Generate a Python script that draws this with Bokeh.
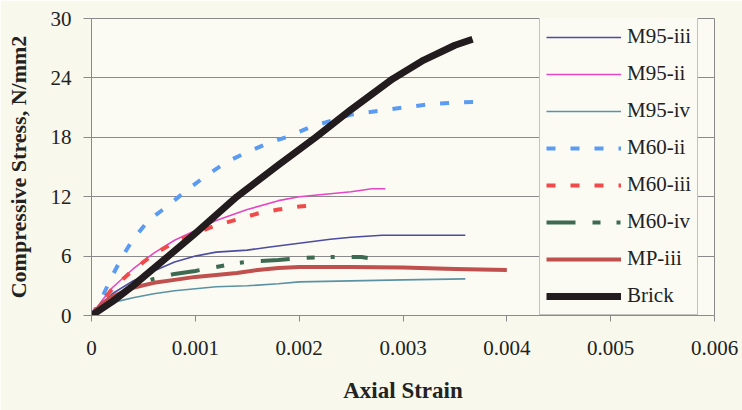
from bokeh.plotting import figure
from bokeh.models import Legend, LegendItem, FixedTicker, Range1d
from bokeh.embed import file_html
from bokeh.resources import INLINE

# ---- data ----
series_names = ["M95-iii", "M95-ii", "M95-iv", "M60-ii", "M60-iii", "M60-iv", "MP-iii", "Brick"]

m95_iii_strain = [0, 0.0001, 0.0002, 0.0004, 0.0006, 0.0008, 0.001, 0.0012, 0.0015, 0.0017, 0.002, 0.0023, 0.0025, 0.0028, 0.0036]
m95_iii_stress = [0, 1.2, 2.2, 3.5, 4.5, 5.4, 6.0, 6.4, 6.6, 6.9, 7.3, 7.7, 7.9, 8.1, 8.1]

m95_ii_strain = [0, 0.0001, 0.0002, 0.0004, 0.0006, 0.0008, 0.001, 0.0012, 0.0015, 0.0018, 0.002, 0.0023, 0.0025, 0.0027, 0.00283]
m95_ii_stress = [0, 1.5, 2.8, 4.7, 6.3, 7.6, 8.6, 9.6, 10.7, 11.6, 12.0, 12.3, 12.5, 12.8, 12.8]

m95_iv_strain = [0, 0.0001, 0.0002, 0.0004, 0.0006, 0.0008, 0.001, 0.0012, 0.0015, 0.0018, 0.002, 0.0025, 0.003, 0.0036]
m95_iv_stress = [0, 0.8, 1.3, 1.8, 2.2, 2.5, 2.7, 2.9, 3.0, 3.2, 3.4, 3.5, 3.6, 3.7]

m60_ii_strain = [0, 0.0001, 0.0002, 0.0003, 0.0004, 0.00055, 0.0007, 0.0009, 0.0011, 0.0013, 0.0015, 0.0017, 0.0019, 0.0021, 0.0025, 0.003, 0.0033, 0.00375]
m60_ii_stress = [0, 1.8, 4.0, 6.0, 7.7, 9.6, 10.8, 12.5, 14.1, 15.5, 16.5, 17.4, 18.1, 19.0, 20.3, 21.0, 21.4, 21.6]

m60_iii_strain = [0, 0.0001, 0.0002, 0.0004, 0.0006, 0.0008, 0.001, 0.0012, 0.0014, 0.0016, 0.0018, 0.002, 0.0022]
m60_iii_stress = [0, 1.4, 2.7, 4.6, 6.2, 7.4, 8.3, 9.1, 9.7, 10.3, 10.7, 11.0, 11.2]

m60_iv_strain = [0, 0.0002, 0.0004, 0.0006, 0.0008, 0.001, 0.0012, 0.0014, 0.0016, 0.0018, 0.002, 0.0023, 0.0026, 0.00266]
m60_iv_stress = [0, 1.9, 3.0, 3.7, 4.2, 4.5, 4.9, 5.3, 5.5, 5.6, 5.8, 5.9, 5.9, 5.8]

mp_iii_strain = [0, 0.0001, 0.0002, 0.0004, 0.0006, 0.0008, 0.001, 0.0012, 0.0014, 0.0016, 0.0018, 0.002, 0.0025, 0.003, 0.0035, 0.004]
mp_iii_stress = [0, 1.2, 1.9, 2.8, 3.3, 3.6, 3.9, 4.1, 4.3, 4.6, 4.8, 4.9, 4.9, 4.85, 4.7, 4.6]

brick_strain = [0, 0.0002, 0.0004, 0.00074, 0.001, 0.0014, 0.0018, 0.00216, 0.0025, 0.0029, 0.0032, 0.0035, 0.00367]
brick_stress = [0, 1.4, 3.0, 6.0, 8.3, 12.0, 15.2, 18.0, 20.8, 23.9, 25.8, 27.3, 27.9]

x_ticks = [0, 0.001, 0.002, 0.003, 0.004, 0.005, 0.006]
x_tick_labels = ["0", "0.001", "0.002", "0.003", "0.004", "0.005", "0.006"]
y_ticks = [0, 6, 12, 18, 24, 30]

# ---- styles ----
styles = {
    "M95-iii": dict(color="#4c4ca0", width=1.6, dash="solid"),
    "M95-ii": dict(color="#e446c4", width=1.6, dash="solid"),
    "M95-iv": dict(color="#5a92a4", width=1.6, dash="solid"),
    "M60-ii": dict(color="#5b9bf2", width=4, dash="9 15"),
    "M60-iii": dict(color="#f04a4a", width=4, dash="9 15"),
    "M60-iv": dict(color="#3e6a52", width=4, dash="29 17 8 16 4 17"),
    "MP-iii": dict(color="#c0504d", width=4, dash="solid"),
    "Brick": dict(color="#231c1e", width=7, dash="solid"),
}

data = {
    "M95-iii": (m95_iii_strain, m95_iii_stress),
    "M95-ii": (m95_ii_strain, m95_ii_stress),
    "M95-iv": (m95_iv_strain, m95_iv_stress),
    "M60-ii": (m60_ii_strain, m60_ii_stress),
    "M60-iii": (m60_iii_strain, m60_iii_stress),
    "M60-iv": (m60_iv_strain, m60_iv_stress),
    "MP-iii": (mp_iii_strain, mp_iii_stress),
    "Brick": (brick_strain, brick_stress),
}

FONT = "Liberation Serif"

p = figure(width=742, height=410, output_backend="svg", toolbar_location=None,
           x_range=Range1d(0, 0.006), y_range=Range1d(0, 30),
           min_border_left=91, min_border_right=28, min_border_top=18, min_border_bottom=95)

p.background_fill_color = "#fbfbf4"
p.border_fill_color = "#f8f8ec"
p.outline_line_color = "#8a8a8a"
p.outline_line_width = 1

p.xgrid.grid_line_color = None
p.ygrid.grid_line_color = "#8a8a8a"
p.ygrid.grid_line_width = 1

p.xaxis.ticker = FixedTicker(ticks=x_ticks)
p.yaxis.ticker = FixedTicker(ticks=y_ticks)
p.xaxis.major_label_overrides = dict(zip(x_ticks, x_tick_labels))

for ax in (p.xaxis[0], p.yaxis[0]):
    ax.axis_line_color = "#8a8a8a"
    ax.major_tick_line_color = "#8a8a8a"
    ax.minor_tick_line_color = None
    ax.major_tick_in = 0
    ax.major_label_text_font = FONT
    ax.major_label_text_font_size = "21px"
    ax.major_label_text_color = "#222222"
    ax.axis_label_text_font = FONT
    ax.axis_label_text_font_style = "bold"
    ax.axis_label_text_color = "#222222"

p.xaxis.major_tick_out = 6
p.yaxis.major_tick_out = 8
p.xaxis.major_label_standoff = 19
p.yaxis.major_label_standoff = 12

p.xaxis.axis_label = "Axial Strain"
p.xaxis.axis_label_text_font_size = "23px"
p.xaxis.axis_label_standoff = 20
p.yaxis.axis_label = "Compressive Stress, N/mm2"
p.yaxis.axis_label_text_font_size = "22px"
p.yaxis.axis_label_standoff = 17

items = []
for name in series_names:
    xs, ys = data[name]
    st = styles[name]
    r = p.line(xs, ys, line_color=st["color"], line_width=st["width"], line_dash=st["dash"],
               line_join="round")
    items.append(LegendItem(label=name, renderers=[r]))

legend = Legend(items=items, location=(448, 0))
legend.label_text_font = FONT
legend.label_text_font_size = "21px"
legend.label_text_color = "#222222"
legend.glyph_width = 75
legend.glyph_height = 24
legend.label_height = 24
legend.label_standoff = 6
legend.spacing = 12
legend.padding = 6
legend.margin = 0
legend.border_line_color = "#8a8a8a"
legend.border_line_width = 1
legend.background_fill_color = "#fbfbf4"
legend.background_fill_alpha = 1
p.add_layout(legend, "center")

open("out.html", "w").write(file_html(p, INLINE))
